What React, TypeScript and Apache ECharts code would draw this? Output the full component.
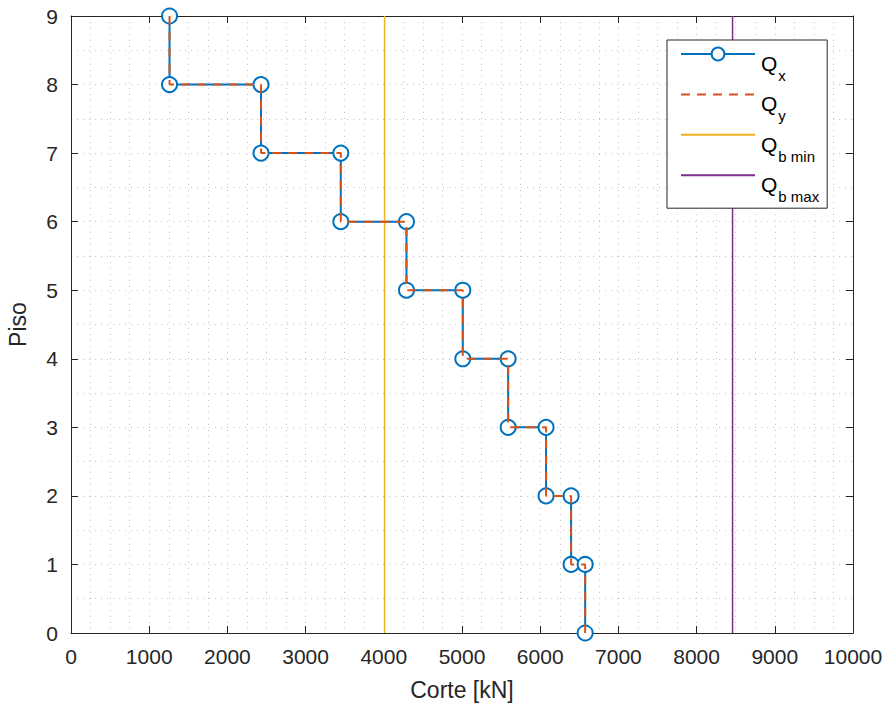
import React, { useEffect, useRef } from "react";
import * as echarts from "echarts";

// Story shear per floor (story 9 down to story 1), kN
const stories = [9, 8, 7, 6, 5, 4, 3, 2, 1];
const shearX = [1260, 2430, 3450, 4290, 5010, 5590, 6075, 6395, 6575];
const shearY = [1260, 2430, 3450, 4290, 5010, 5590, 6075, 6395, 6575];
const qbMin = 4010;
const qbMax = 8460;
const floorRange = [0, 9];
const xTicks = [0, 1000, 2000, 3000, 4000, 5000, 6000, 7000, 8000, 9000, 10000];
const yTicks = [0, 1, 2, 3, 4, 5, 6, 7, 8, 9];

function stepPoints(shear: number[]): number[][] {
  const pts: number[][] = [];
  stories.forEach((s, i) => {
    pts.push([shear[i], s]);
    pts.push([shear[i], s - 1]);
  });
  return pts;
}

const FONT = "Liberation Sans, Arial, Helvetica, sans-serif";
const TXT = "#262626";
const GRID = "#c4c4c4";

const legendNames: Record<string, string> = {
  Qx: "{m|Q}{s|x}",
  Qy: "{m|Q}{s|y}",
  Qbmin: "{m|Q}{s|b min}",
  Qbmax: "{m|Q}{s|b max}",
};

export default function App() {
  const ref = useRef<HTMLDivElement>(null);
  useEffect(() => {
    if (!ref.current) return;
    const chart = echarts.init(ref.current, null, { renderer: "svg" });
    const xMin = xTicks[0];
    const xMax = xTicks[xTicks.length - 1];
    const yMin = yTicks[0];
    const yMax = yTicks[yTicks.length - 1];
    const splitDotted = { show: true, lineStyle: { color: GRID, type: [1, 5], width: 1 } };
    const baseX = {
      type: "value",
      min: xMin,
      max: xMax,
      interval: 1000,
      axisLine: { show: true, onZero: false, lineStyle: { color: TXT, width: 1 } },
      axisTick: { show: true, inside: true, length: 7, lineStyle: { color: TXT, width: 1 } },
    };
    const baseY = {
      type: "value",
      min: yMin,
      max: yMax,
      interval: 1,
      axisLine: { show: true, onZero: false, lineStyle: { color: TXT, width: 1 } },
      axisTick: { show: true, inside: true, length: 7, lineStyle: { color: TXT, width: 1 } },
    };
    chart.setOption({
      animation: false,
      backgroundColor: "#ffffff",
      textStyle: { fontFamily: FONT },
      grid: { left: 71, right: 31, top: 16, bottom: 77, containLabel: false, outerBoundsMode: "none" },
      xAxis: [
        {
          ...baseX,
          position: "bottom",
          name: "Corte [kN]",
          nameLocation: "middle",
          nameGap: 45,
          nameTextStyle: { color: TXT, fontSize: 23, fontFamily: FONT },
          axisLabel: { color: TXT, fontSize: 21, margin: 13, fontFamily: FONT, formatter: (v: number) => String(v) },
          splitLine: splitDotted,
          minorTick: { show: false, splitNumber: 4 },
          minorSplitLine: splitDotted,
        },
        {
          ...baseX,
          position: "top",
          axisLabel: { show: false },
          splitLine: { show: false },
        },
      ],
      yAxis: [
        {
          ...baseY,
          position: "left",
          name: "Piso",
          nameLocation: "middle",
          nameGap: 42,
          nameTextStyle: { color: TXT, fontSize: 23, fontFamily: FONT },
          axisLabel: { color: TXT, fontSize: 21, margin: 13, fontFamily: FONT, formatter: (v: number) => String(v) },
          splitLine: splitDotted,
          minorTick: { show: false, splitNumber: 2 },
          minorSplitLine: splitDotted,
        },
        {
          ...baseY,
          position: "right",
          axisLabel: { show: false },
          splitLine: { show: false },
        },
      ],
      legend: {
        orient: "vertical",
        left: 667,
        top: 40,
        padding: [4, 8, 4, 13],
        itemGap: 1.4,
        itemWidth: 74,
        itemHeight: 16,
        backgroundColor: "#ffffff",
        borderColor: TXT,
        borderWidth: 1,
        borderRadius: 0,
        data: [
          { name: "Qx" },
          { name: "Qy", itemStyle: { opacity: 0 } },
          { name: "Qbmin", itemStyle: { opacity: 0 } },
          { name: "Qbmax", itemStyle: { opacity: 0 } },
        ],
        formatter: (name: string) => legendNames[name],
        textStyle: {
          color: "#000",
          fontFamily: FONT,
          padding: [0, 0, 0, 1],
          rich: {
            m: { fontSize: 21, lineHeight: 20, verticalAlign: "top", padding: [9, 0, 0, 0], fontFamily: FONT, color: "#000" },
            s: { fontSize: 15, lineHeight: 14, verticalAlign: "top", padding: [24, 0, 0, 1], fontFamily: FONT, color: "#000" },
          },
        },
      },
      series: [
        {
          name: "Qx",
          type: "line",
          data: stepPoints(shearX),
          xAxisIndex: 0,
          yAxisIndex: 0,
          symbol: "emptyCircle",
          symbolSize: 15,
          showAllSymbol: true,
          lineStyle: { color: "#0072BD", width: 2 },
          itemStyle: { color: "#0072BD", borderColor: "#0072BD", borderWidth: 2 },
          z: 2,
        },
        {
          name: "Qy",
          type: "line",
          data: stepPoints(shearY),
          symbol: "none",
          lineStyle: { color: "#D95319", width: 2, type: [9, 7] },
          itemStyle: { color: "#D95319" },
          z: 3,
        },
        {
          name: "Qbmin",
          type: "line",
          data: [[qbMin, floorRange[0]], [qbMin, floorRange[1]]],
          symbol: "none",
          lineStyle: { color: "#EDB120", width: 1.5 },
          itemStyle: { color: "#EDB120" },
          z: 2,
        },
        {
          name: "Qbmax",
          type: "line",
          data: [[qbMax, floorRange[0]], [qbMax, floorRange[1]]],
          symbol: "none",
          lineStyle: { color: "#7E2F8E", width: 1.5 },
          itemStyle: { color: "#7E2F8E" },
          z: 2,
        },
      ],
    });
    return () => chart.dispose();
  }, []);
  return <div ref={ref} style={{ width: 884, height: 710, position: "fixed", left: 0, top: 0 }} />;
}
